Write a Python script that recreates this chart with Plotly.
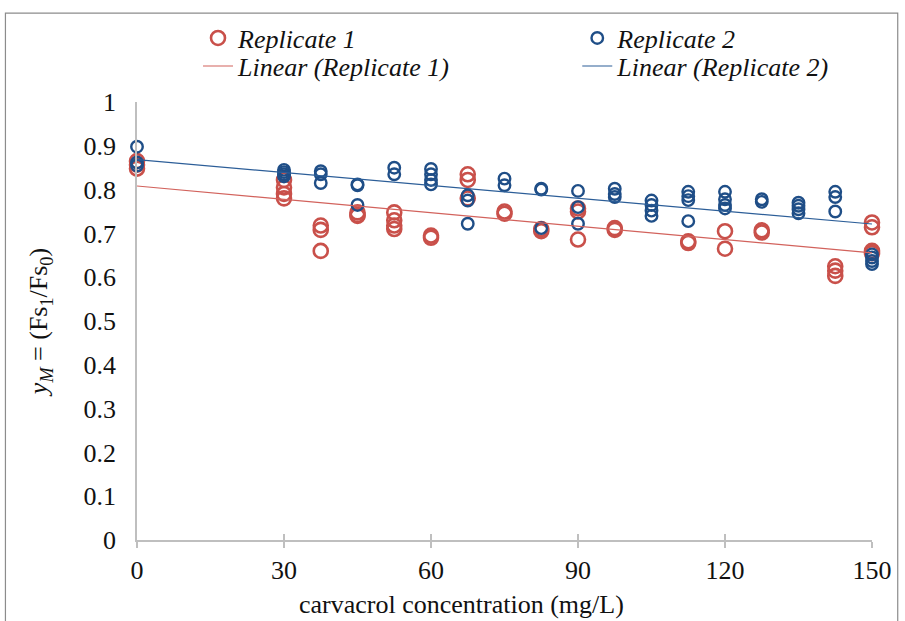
import numpy as np
import plotly.graph_objects as go

# Replicate 1: carvacrol concentration (mg/L) and fluorescence ratio
rep1_x = [0, 0, 0,
          30, 30, 30, 30,
          37.5, 37.5, 37.5,
          45, 45, 45,
          52.5, 52.5, 52.5, 52.5,
          60, 60,
          67.5, 67.5, 67.5,
          75, 75,
          82.5, 82.5,
          90, 90, 90,
          97.5, 97.5,
          112.5, 112.5,
          120, 120,
          127.5, 127.5,
          142.5, 142.5, 142.5,
          150, 150, 150, 150]
rep1_y = [0.865, 0.857, 0.848,
          0.822, 0.805, 0.790, 0.780,
          0.718, 0.708, 0.660,
          0.748, 0.742, 0.740,
          0.748, 0.730, 0.718, 0.710,
          0.695, 0.690,
          0.835, 0.822, 0.780,
          0.750, 0.745,
          0.710, 0.705,
          0.757, 0.750, 0.686,
          0.712, 0.708,
          0.682, 0.678,
          0.705, 0.665,
          0.707, 0.702,
          0.625, 0.615, 0.603,
          0.725, 0.714, 0.660, 0.655]

# Replicate 2
rep2_x = [0, 0, 0,
          30, 30, 30, 30,
          37.5, 37.5, 37.5,
          45, 45, 45,
          52.5, 52.5,
          60, 60, 60, 60,
          67.5, 67.5, 67.5,
          75, 75,
          82.5, 82.5, 82.5,
          90, 90, 90,
          97.5, 97.5, 97.5,
          105, 105, 105, 105,
          112.5, 112.5, 112.5, 112.5,
          120, 120, 120, 120,
          127.5, 127.5,
          135, 135, 135, 135,
          142.5, 142.5, 142.5,
          150, 150, 150, 150]
rep2_y = [0.898, 0.862, 0.855,
          0.845, 0.840, 0.835, 0.830,
          0.842, 0.835, 0.815,
          0.812, 0.810, 0.765,
          0.850, 0.835,
          0.847, 0.835, 0.822, 0.812,
          0.787, 0.775, 0.722,
          0.825, 0.810,
          0.802, 0.800, 0.712,
          0.797, 0.760, 0.722,
          0.802, 0.790, 0.783,
          0.775, 0.765, 0.752, 0.740,
          0.795, 0.785, 0.776, 0.728,
          0.795, 0.778, 0.765, 0.757,
          0.778, 0.772,
          0.770, 0.763, 0.755, 0.746,
          0.795, 0.783, 0.750,
          0.652, 0.645, 0.637, 0.630]

x_ticks = [0, 30, 60, 90, 120, 150]
y_ticks = [0, 0.1, 0.2, 0.3, 0.4, 0.5, 0.6, 0.7, 0.8, 0.9, 1]
y_tick_text = ["0", "0.1", "0.2", "0.3", "0.4", "0.5", "0.6", "0.7", "0.8", "0.9", "1"]
x_title = "carvacrol concentration (mg/L)"
y_title = "<i>y<sub>M</sub></i> = (Fs<sub>1</sub>/Fs<sub>0</sub>)"

RED = "#C9504A"
BLUE = "#1F4E87"
RED_LINE = "#D2625C"
BLUE_LINE = "#2C5E98"
FONT = "Liberation Serif"
TEXT = "#111111"


def linear_fit(xs, ys):
    slope, intercept = np.polyfit(xs, ys, 1)
    xf = np.array([0.0, 150.0])
    return xf, intercept + slope * xf


fit1_x, fit1_y = linear_fit(rep1_x, rep1_y)
fit2_x, fit2_y = linear_fit(rep2_x, rep2_y)

fig = go.Figure()

fig.add_trace(go.Scatter(
    x=rep1_x, y=rep1_y, mode="markers", name="Replicate 1",
    marker=dict(symbol="circle-open", size=14, color=RED, line=dict(width=2.6)),
    cliponaxis=False, legend="legend",
))
fig.add_trace(go.Scatter(
    x=rep2_x, y=rep2_y, mode="markers", name="Replicate 2",
    marker=dict(symbol="circle-open", size=11.5, color=BLUE, line=dict(width=2.4)),
    cliponaxis=False, legend="legend2",
))
fig.add_trace(go.Scatter(
    x=fit1_x, y=fit1_y, mode="lines", name="Linear (Replicate 1)",
    line=dict(color=RED_LINE, width=1.2), legend="legend3",
))
fig.add_trace(go.Scatter(
    x=fit2_x, y=fit2_y, mode="lines", name="Linear (Replicate 2)",
    line=dict(color=BLUE_LINE, width=1.2), legend="legend4",
))

# second x axis only to draw the inward half of the crossing tick marks
fig.add_trace(go.Scatter(x=[0], y=[0], xaxis="x2", mode="markers",
                         marker=dict(opacity=0), showlegend=False, hoverinfo="skip"))

legend_style = dict(
    orientation="v", xanchor="left", yanchor="middle",
    font=dict(family=FONT, size=26, color=TEXT, style="italic"),
    bgcolor="rgba(0,0,0,0)", tracegroupgap=0, itemsizing="trace",
)
row1_y, row2_y = 1.146, 1.082
col1_x, col2_x = 0.083, 0.599

fig.update_layout(
    width=905, height=621,
    margin=dict(l=137, r=33, t=102, b=81),
    paper_bgcolor="white", plot_bgcolor="white",
    showlegend=True,
    legend=dict(x=col1_x, y=row1_y, **legend_style),
    legend2=dict(x=col2_x, y=row1_y, **legend_style),
    legend3=dict(x=col1_x, y=row2_y, **legend_style),
    legend4=dict(x=col2_x, y=row2_y, **legend_style),
    xaxis=dict(
        range=[0, 150], tickvals=x_ticks, ticktext=[str(v) for v in x_ticks],
        showgrid=False, zeroline=False, showline=True, linecolor="#BFBFBF", linewidth=1.8,
        ticks="outside", ticklen=6, tickwidth=1.5, tickcolor="#BFBFBF",
        tickfont=dict(family=FONT, size=26, color=TEXT),
    ),
    xaxis2=dict(
        range=[0, 150], overlaying="x", anchor="y", side="bottom",
        tickvals=x_ticks, showticklabels=False, showgrid=False, zeroline=False,
        showline=False, ticks="inside", ticklen=6, tickwidth=1.5, tickcolor="#BFBFBF",
    ),
    yaxis=dict(
        range=[0, 1], tickvals=y_ticks, ticktext=y_tick_text,
        showgrid=False, zeroline=False, showline=True, linecolor="#BFBFBF", linewidth=1.8,
        ticks="", ticklabelstandoff=14,
        tickfont=dict(family=FONT, size=26, color=TEXT),
        title=dict(text=y_title, standoff=28, font=dict(family=FONT, size=26, color=TEXT)),
    ),
    annotations=[dict(text=x_title, xref="paper", yref="paper", x=0.442, y=-0.148,
                      xanchor="center", yanchor="middle", showarrow=False,
                      font=dict(family=FONT, size=26, color=TEXT))],
    shapes=[dict(type="rect", xref="paper", yref="paper",
                 x0=-0.179, x1=1.035, y0=-0.2, y1=1.203,
                 line=dict(color="#8C8C8C", width=1.2), fillcolor="rgba(0,0,0,0)", layer="below")],
)

fig.write_html("out.html")
